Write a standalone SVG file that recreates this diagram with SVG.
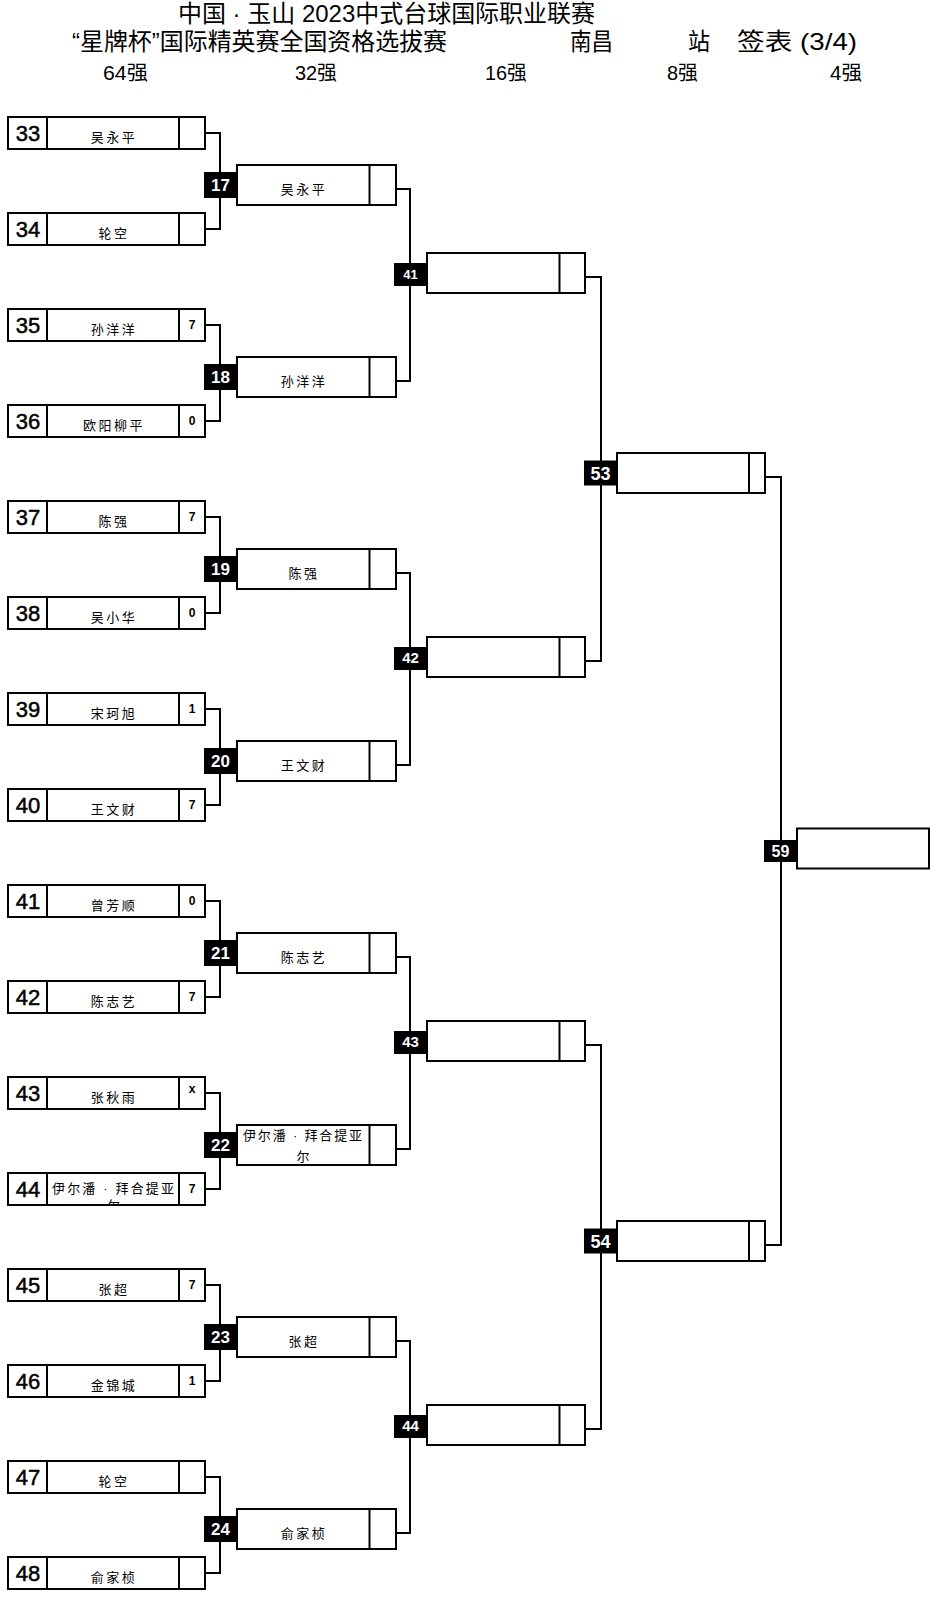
<svg xmlns="http://www.w3.org/2000/svg" width="940" height="1598" viewBox="0 0 940 1598">
<style>
.hd{font-family:"Liberation Sans","Noto Sans CJK SC",sans-serif;fill:#000}
.box{fill:#fff;stroke:#000;stroke-width:2}
.dv{fill:none;stroke:#000;stroke-width:2}
.seed{font-family:"Liberation Sans",Arial,sans-serif;font-size:22px;text-anchor:middle;fill:#000;stroke:#000;stroke-width:0.5}
.name{font-family:"Liberation Sans","Noto Sans CJK SC",sans-serif;font-size:13px;text-anchor:middle;letter-spacing:2.5px;fill:#000}
.name2{font-family:"Liberation Sans","Noto Sans CJK SC",sans-serif;font-size:13px;fill:#000}
.score{font-family:"Liberation Sans",Arial,sans-serif;font-weight:bold;font-size:12px;text-anchor:middle;fill:#000}
.mb{fill:#000}
.mn{font-family:"Liberation Sans",Arial,sans-serif;font-weight:bold;text-anchor:middle;fill:#fff}
.conn path{fill:none;stroke:#000;stroke-width:2}
</style>
<defs>
<clipPath id="c44"><rect x="48" y="1174" width="130" height="30"/></clipPath>
<clipPath id="c22"><rect x="238" y="1126" width="131" height="38"/></clipPath>
</defs>
<rect x="0" y="0" width="940" height="1598" fill="#fff"/>
<g id="header">
<text class="hd" x="178" y="22" font-size="24" textLength="417" lengthAdjust="spacingAndGlyphs">中国 · 玉山 2023中式台球国际职业联赛</text>
<text class="hd" x="72" y="50" font-size="24" textLength="375" lengthAdjust="spacingAndGlyphs">“星牌杯”国际精英赛全国资格选拔赛</text>
<text class="hd" x="570" y="50" font-size="24" textLength="43" lengthAdjust="spacingAndGlyphs">南昌</text>
<text class="hd" x="688" y="50" font-size="24" textLength="22" lengthAdjust="spacingAndGlyphs">站</text>
<text class="hd" x="737" y="50" font-size="24" textLength="120" lengthAdjust="spacingAndGlyphs">签表 (3/4)</text>
<text class="hd" x="103" y="80" font-size="20" textLength="45" lengthAdjust="spacingAndGlyphs">64强</text>
<text class="hd" x="295" y="80" font-size="20" textLength="42" lengthAdjust="spacingAndGlyphs">32强</text>
<text class="hd" x="485" y="80" font-size="20" textLength="42" lengthAdjust="spacingAndGlyphs">16强</text>
<text class="hd" x="667" y="80" font-size="20" textLength="31" lengthAdjust="spacingAndGlyphs">8强</text>
<text class="hd" x="830" y="80" font-size="20" textLength="32" lengthAdjust="spacingAndGlyphs">4强</text>
</g>
<g id="connectors" class="conn">
<path d="M205,133H220V229H205"/>
<path d="M205,325H220V421H205"/>
<path d="M205,517H220V613H205"/>
<path d="M205,709H220V805H205"/>
<path d="M205,901H220V997H205"/>
<path d="M205,1093H220V1189H205"/>
<path d="M205,1285H220V1381H205"/>
<path d="M205,1477H220V1573H205"/>
<path d="M396,189H410V381H396"/>
<path d="M396,573H410V765H396"/>
<path d="M396,957H410V1149H396"/>
<path d="M396,1341H410V1533H396"/>
<path d="M585,277H601V661H585"/>
<path d="M585,1045H601V1429H585"/>
<path d="M765,477H781V1245H765"/>
</g>
<g id="p33"><rect class="box" x="8" y="117" width="197" height="32"/><path class="dv" d="M47,117v32M179,117v32"/><text class="seed" x="28" y="141">33</text><text class="name" x="114" y="142">吴永平</text></g>
<g id="p34"><rect class="box" x="8" y="213" width="197" height="32"/><path class="dv" d="M47,213v32M179,213v32"/><text class="seed" x="28" y="237">34</text><text class="name" x="114" y="238">轮空</text></g>
<g id="p35"><rect class="box" x="8" y="309" width="197" height="32"/><path class="dv" d="M47,309v32M179,309v32"/><text class="seed" x="28" y="333">35</text><text class="name" x="114" y="334">孙洋洋</text><text class="score" x="192" y="329">7</text></g>
<g id="p36"><rect class="box" x="8" y="405" width="197" height="32"/><path class="dv" d="M47,405v32M179,405v32"/><text class="seed" x="28" y="429">36</text><text class="name" x="114" y="430">欧阳柳平</text><text class="score" x="192" y="425">0</text></g>
<g id="p37"><rect class="box" x="8" y="501" width="197" height="32"/><path class="dv" d="M47,501v32M179,501v32"/><text class="seed" x="28" y="525">37</text><text class="name" x="114" y="526">陈强</text><text class="score" x="192" y="521">7</text></g>
<g id="p38"><rect class="box" x="8" y="597" width="197" height="32"/><path class="dv" d="M47,597v32M179,597v32"/><text class="seed" x="28" y="621">38</text><text class="name" x="114" y="622">吴小华</text><text class="score" x="192" y="617">0</text></g>
<g id="p39"><rect class="box" x="8" y="693" width="197" height="32"/><path class="dv" d="M47,693v32M179,693v32"/><text class="seed" x="28" y="717">39</text><text class="name" x="114" y="718">宋珂旭</text><text class="score" x="192" y="713">1</text></g>
<g id="p40"><rect class="box" x="8" y="789" width="197" height="32"/><path class="dv" d="M47,789v32M179,789v32"/><text class="seed" x="28" y="813">40</text><text class="name" x="114" y="814">王文财</text><text class="score" x="192" y="809">7</text></g>
<g id="p41"><rect class="box" x="8" y="885" width="197" height="32"/><path class="dv" d="M47,885v32M179,885v32"/><text class="seed" x="28" y="909">41</text><text class="name" x="114" y="910">曾芳顺</text><text class="score" x="192" y="905">0</text></g>
<g id="p42"><rect class="box" x="8" y="981" width="197" height="32"/><path class="dv" d="M47,981v32M179,981v32"/><text class="seed" x="28" y="1005">42</text><text class="name" x="114" y="1006">陈志艺</text><text class="score" x="192" y="1001">7</text></g>
<g id="p43"><rect class="box" x="8" y="1077" width="197" height="32"/><path class="dv" d="M47,1077v32M179,1077v32"/><text class="seed" x="28" y="1101">43</text><text class="name" x="114" y="1102">张秋雨</text><text class="score" x="192" y="1093">x</text></g>
<g id="p44"><rect class="box" x="8" y="1173" width="197" height="32"/><path class="dv" d="M47,1173v32M179,1173v32"/><text class="seed" x="28" y="1197">44</text><g clip-path="url(#c44)"><text class="name2" x="52" y="1193" textLength="122" lengthAdjust="spacing">伊尔潘 · 拜合提亚</text><text class="name2" x="107" y="1210">尔</text></g><text class="score" x="192" y="1193">7</text></g>
<g id="p45"><rect class="box" x="8" y="1269" width="197" height="32"/><path class="dv" d="M47,1269v32M179,1269v32"/><text class="seed" x="28" y="1293">45</text><text class="name" x="114" y="1294">张超</text><text class="score" x="192" y="1289">7</text></g>
<g id="p46"><rect class="box" x="8" y="1365" width="197" height="32"/><path class="dv" d="M47,1365v32M179,1365v32"/><text class="seed" x="28" y="1389">46</text><text class="name" x="114" y="1390">金锦城</text><text class="score" x="192" y="1385">1</text></g>
<g id="p47"><rect class="box" x="8" y="1461" width="197" height="32"/><path class="dv" d="M47,1461v32M179,1461v32"/><text class="seed" x="28" y="1485">47</text><text class="name" x="114" y="1486">轮空</text></g>
<g id="p48"><rect class="box" x="8" y="1557" width="197" height="32"/><path class="dv" d="M47,1557v32M179,1557v32"/><text class="seed" x="28" y="1581">48</text><text class="name" x="114" y="1582">俞家桢</text></g>
<g id="m17"><rect class="box" x="237" y="165" width="159" height="40"/><path class="dv" d="M369.5,165v40"/><text class="name" x="304" y="194">吴永平</text><rect class="mb" x="204" y="172" width="33" height="26"/><text class="mn" x="220.5" y="191" font-size="17">17</text></g>
<g id="m18"><rect class="box" x="237" y="357" width="159" height="40"/><path class="dv" d="M369.5,357v40"/><text class="name" x="304" y="386">孙洋洋</text><rect class="mb" x="204" y="364" width="33" height="26"/><text class="mn" x="220.5" y="383" font-size="17">18</text></g>
<g id="m19"><rect class="box" x="237" y="549" width="159" height="40"/><path class="dv" d="M369.5,549v40"/><text class="name" x="304" y="578">陈强</text><rect class="mb" x="204" y="556" width="33" height="26"/><text class="mn" x="220.5" y="575" font-size="17">19</text></g>
<g id="m20"><rect class="box" x="237" y="741" width="159" height="40"/><path class="dv" d="M369.5,741v40"/><text class="name" x="304" y="770">王文财</text><rect class="mb" x="204" y="748" width="33" height="26"/><text class="mn" x="220.5" y="767" font-size="17">20</text></g>
<g id="m21"><rect class="box" x="237" y="933" width="159" height="40"/><path class="dv" d="M369.5,933v40"/><text class="name" x="304" y="962">陈志艺</text><rect class="mb" x="204" y="940" width="33" height="26"/><text class="mn" x="220.5" y="959" font-size="17">21</text></g>
<g id="m22"><rect class="box" x="237" y="1125" width="159" height="40"/><path class="dv" d="M369.5,1125v40"/><g clip-path="url(#c22)"><text class="name2" x="243" y="1140" textLength="119" lengthAdjust="spacing">伊尔潘 · 拜合提亚</text><text class="name2" x="296.5" y="1161">尔</text></g><rect class="mb" x="204" y="1132" width="33" height="26"/><text class="mn" x="220.5" y="1151" font-size="17">22</text></g>
<g id="m23"><rect class="box" x="237" y="1317" width="159" height="40"/><path class="dv" d="M369.5,1317v40"/><text class="name" x="304" y="1346">张超</text><rect class="mb" x="204" y="1324" width="33" height="26"/><text class="mn" x="220.5" y="1343" font-size="17">23</text></g>
<g id="m24"><rect class="box" x="237" y="1509" width="159" height="40"/><path class="dv" d="M369.5,1509v40"/><text class="name" x="304" y="1538">俞家桢</text><rect class="mb" x="204" y="1516" width="33" height="26"/><text class="mn" x="220.5" y="1535" font-size="17">24</text></g>
<g id="m41"><rect class="box" x="427" y="253" width="158" height="40"/><path class="dv" d="M559.5,253v40"/><rect class="mb" x="394" y="263" width="33" height="23"/><text class="mn" x="410.5" y="279" font-size="13">41</text></g>
<g id="m42"><rect class="box" x="427" y="637" width="158" height="40"/><path class="dv" d="M559.5,637v40"/><rect class="mb" x="394" y="647" width="33" height="23"/><text class="mn" x="410.5" y="663" font-size="15">42</text></g>
<g id="m43"><rect class="box" x="427" y="1021" width="158" height="40"/><path class="dv" d="M559.5,1021v40"/><rect class="mb" x="394" y="1031" width="33" height="23"/><text class="mn" x="410.5" y="1047" font-size="15">43</text></g>
<g id="m44"><rect class="box" x="427" y="1405" width="158" height="40"/><path class="dv" d="M559.5,1405v40"/><rect class="mb" x="394" y="1415" width="33" height="23"/><text class="mn" x="410.5" y="1431" font-size="15">44</text></g>
<g id="m53"><rect class="box" x="617" y="453" width="148" height="40"/><path class="dv" d="M749,453v40"/><rect class="mb" x="584" y="460.5" width="33" height="25"/><text class="mn" x="600.5" y="479.5" font-size="18">53</text></g>
<g id="m54"><rect class="box" x="617" y="1221" width="148" height="40"/><path class="dv" d="M749,1221v40"/><rect class="mb" x="584" y="1228.5" width="33" height="25"/><text class="mn" x="600.5" y="1247.5" font-size="18">54</text></g>
<g id="m59"><rect class="box" x="797" y="828.5" width="132" height="40"/><rect class="mb" x="764" y="840" width="33" height="22"/><text class="mn" x="780.5" y="857" font-size="16" font-weight="normal">59</text></g>
</svg>
